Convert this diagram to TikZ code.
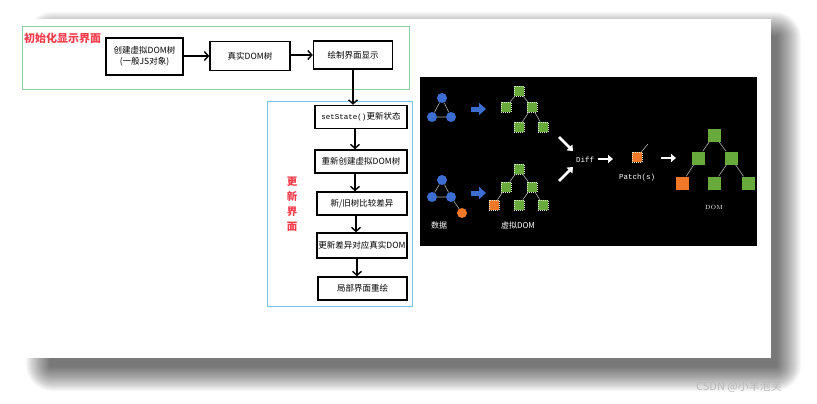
\documentclass[tikz,border=0pt]{standalone}
\usepackage{fontspec}
\newfontfamily\cjk{Noto Sans CJK SC}
\newfontfamily\mono{Liberation Mono}
\usetikzlibrary{arrows.meta}
\definecolor{lblred}{RGB}{245,60,75}
\definecolor{gborder}{RGB}{140,210,160}
\definecolor{bborder}{RGB}{120,195,235}
\definecolor{vgreen}{RGB}{105,170,60}
\definecolor{vorange}{RGB}{240,120,40}
\definecolor{vblue}{RGB}{60,110,210}
\definecolor{wm}{RGB}{185,185,185}
\begin{document}
\begin{tikzpicture}[x=1pt,y=-1pt,
  flow/.style={draw=black, line width=1.5pt, fill=white, inner sep=1pt,
    font=\cjk\fontsize{8.5}{10.5}\selectfont, align=center, minimum height=23pt},
  arr/.style={line width=1.4pt, -{Straight Barb[length=4pt,width=9pt]}},
  vsq/.style={rectangle, fill=vgreen, draw=white!75!vgreen, dash pattern=on 1pt off 1pt,
    line width=0.6pt, minimum size=10pt, inner sep=0pt},
  bsq/.style={rectangle, fill=vgreen, minimum size=13pt, inner sep=0pt},
  dot/.style={circle, fill=vblue, minimum size=10pt, inner sep=0pt},
  tline/.style={draw=gray!60!white, line width=0.6pt},
  barrow/.style={draw=vblue, line width=5pt, -{Triangle[length=7pt,width=12pt]}},
  warrow/.style={draw=white, line width=2.6pt, -{Triangle[length=5pt,width=8pt]}},
  wtxt/.style={text=white, inner sep=0pt},
  lbl/.style={text=lblred, font=\cjk\bfseries\fontsize{11}{14}\selectfont, inner sep=0pt}]
\useasboundingbox (0,0) rectangle (817,404);
\fill[white] (0,0) rectangle (817,404);
% shadow
\foreach \i in {0,...,27}{
  \fill[black, opacity=0.022, rounded corners=\i pt]
    (50-0.9*\i, 36-0.9*\i) rectangle (777+0.9*\i, 367+0.9*\i);
}
\fill[white] (19,19) rectangle (771,358);

% init area
\draw[gborder, line width=0.8pt] (22,26) rectangle (409,89);
\node[lbl, anchor=west] (initlbl) at (24,38) {初始化显示界面};
\node[flow, minimum width=77pt, minimum height=37pt] (b1) at (144.5,56.5) {创建虚拟DOM树\\(一般JS对象)};
\node[flow, minimum width=80pt, minimum height=29pt] (b2) at (250,56) {真实DOM树};
\node[flow, minimum width=79pt, minimum height=28pt] (b3) at (353,55) {绘制界面显示};
\draw[arr] (b1.east |- b2) -- (b2.west);
\draw[arr] (b2.east |- b3) -- (b3.west);

% update area
\draw[bborder, line width=0.8pt] (267,101) rectangle (412,306);
\node[lbl, align=center, font=\cjk\bfseries\fontsize{10.5}{15}\selectfont] (updlbl) at (292,204) {更\\新\\界\\面};
\node[flow, minimum width=92pt] (u1) at (361,117) {\mono\fontsize{7.5}{9}\selectfont setState()\cjk\fontsize{8.5}{10.5}\selectfont 更新状态};
\node[flow, minimum width=92pt] (u2) at (361,161.5) {重新创建虚拟DOM树};
\node[flow, minimum width=90pt] (u3) at (362,203.5) {新/旧树比较差异};
\node[flow, minimum width=90pt, minimum height=25pt, inner sep=0.5pt] (u4) at (362,245.5) {更新差异对应真实DOM};
\node[flow, minimum width=89pt] (u5) at (362.5,288.5) {局部界面重绘};
\coordinate (c1) at (355,0);
\coordinate (c2) at (356,0);
\coordinate (c3) at (357,0);
\draw[arr] (b3.south) -- (b3.south |- u1.north);
\draw[arr] (u1.south -| c1) -- (u2.north -| c1);
\draw[arr] (u2.south -| c1) -- (u3.north -| c1);
\draw[arr] (u3.south -| c2) -- (u4.north -| c2);
\draw[arr] (u4.south -| c3) -- (u5.north -| c3);

% black panel
\fill[black] (420,77) rectangle (757,246);
% top data graph
\node[dot] (d1) at (442,98) {};
\node[dot] (d2) at (432,117) {};
\node[dot] (d3) at (451,117) {};
\draw[tline] (d1) -- (d2) (d1) -- (d3) (d2) -- (d3);
% bottom data graph
\node[dot] (e1) at (442,180) {};
\node[dot] (e2) at (432,197) {};
\node[dot] (e3) at (451,197) {};
\node[dot, fill=vorange] (e4) at (462,213) {};
\draw[tline] (e1) -- (e2) (e1) -- (e3) (e2) -- (e3) (e3) -- (e4);
% blue arrows
\coordinate (ba1) at (471,109); \coordinate (ba1e) at (486,109);
\coordinate (ba2) at (471,193); \coordinate (ba2e) at (486,193);
\draw[barrow] (ba1) -- (ba1e);
\draw[barrow] (ba2) -- (ba2e);
% top vtree
\node[vsq] (t1) at (519,91) {};
\node[vsq] (t2) at (506,107) {};
\node[vsq] (t3) at (532,107) {};
\node[vsq] (t4) at (519,127) {};
\node[vsq] (t5) at (543,127) {};
\draw[tline] (t1) -- (t2) (t1) -- (t3) (t3) -- (t4) (t3) -- (t5);
% bottom vtree
\node[vsq] (s1) at (519,169) {};
\node[vsq] (s2) at (506,187) {};
\node[vsq] (s3) at (532,187) {};
\node[vsq, fill=vorange] (s4) at (494,205) {};
\node[vsq] (s5) at (519,205) {};
\node[vsq] (s6) at (543,205) {};
\draw[tline] (s1) -- (s2) (s1) -- (s3) (s2) -- (s4) (s3) -- (s5) (s3) -- (s6);
% diff
\node[wtxt, font=\mono\fontsize{7.5}{9}\selectfont] (diff) at (585,160) {Diff};
\coordinate (wa1) at (559,137); \coordinate (wa1e) at (573,151);
\coordinate (wa2) at (559,181); \coordinate (wa2e) at (573,167);
\draw[warrow] (wa1) -- (wa1e);
\draw[warrow] (wa2) -- (wa2e);
\coordinate (wa3) at (598,159); \coordinate (wa3e) at (613,159);
\draw[warrow] (wa3) -- (wa3e);
% patch
\node[vsq, fill=vorange] (p1) at (637,157) {};
\coordinate (pt) at (648,144);
\draw[tline] (p1) -- (pt);
\node[wtxt, font=\mono\fontsize{7.5}{9}\selectfont] (patch) at (637,178) {Patch(s)};
\coordinate (wa4) at (661,158); \coordinate (wa4e) at (676,158);
\draw[warrow] (wa4) -- (wa4e);
% final DOM
\node[bsq] (f1) at (714,135) {};
\node[bsq] (f2) at (698,158) {};
\node[bsq] (f3) at (731,158) {};
\node[bsq, fill=vorange] (f4) at (682,183) {};
\node[bsq] (f5) at (714,183) {};
\node[bsq] (f6) at (748,183) {};
\draw[tline] (f1) -- (f2) (f1) -- (f3) (f2) -- (f4) (f3) -- (f5) (f3) -- (f6);
\node[wtxt, font=\fontsize{6}{7}\selectfont] (domlbl) at (714,207) {DOM};
\node[wtxt, font=\cjk\fontsize{8}{9}\selectfont] (datalbl) at (439,225) {数据};
\node[wtxt, font=\cjk\fontsize{8}{9}\selectfont] (vdomlbl) at (518,225) {虚拟DOM};

% watermark
\node[text=wm, font=\cjk\fontsize{11}{13}\selectfont, inner sep=0pt] (wmk) at (739,387) {CSDN @小羊泡芙};
\end{tikzpicture}
\end{document}
